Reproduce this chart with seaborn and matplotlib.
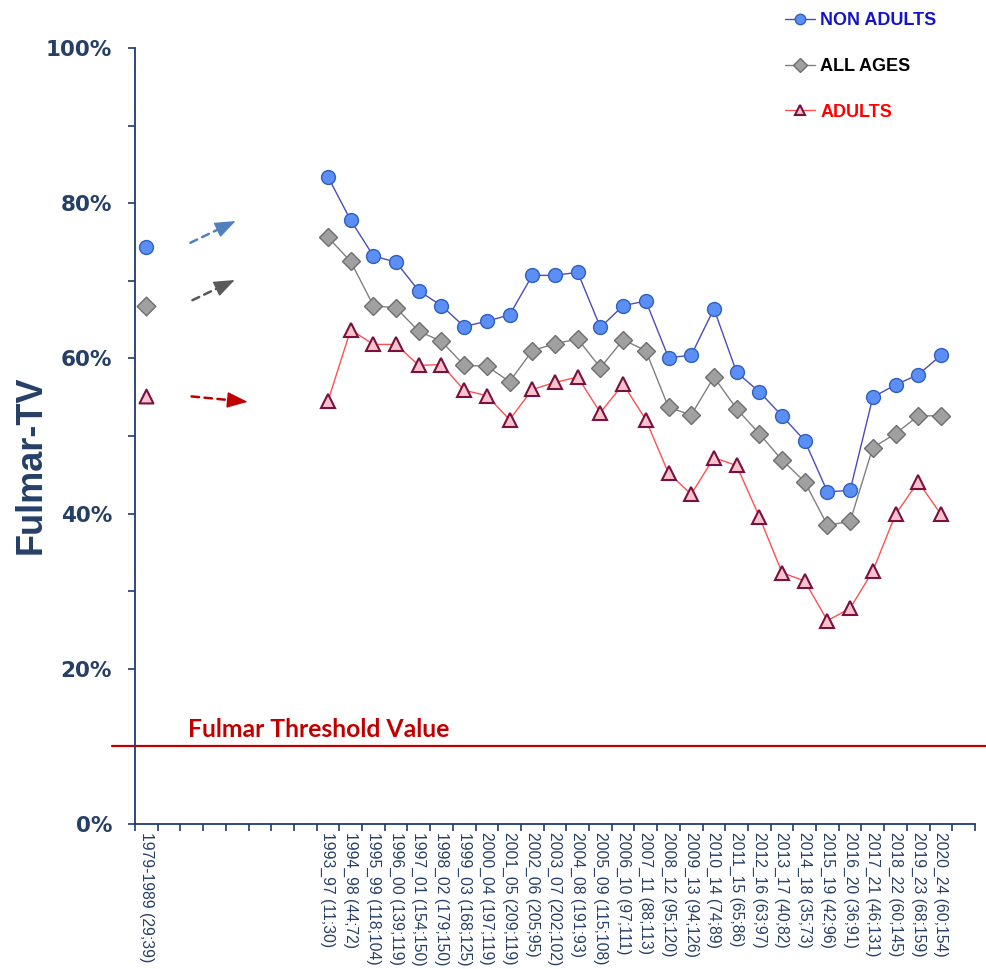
import matplotlib
matplotlib.use("Agg")
import matplotlib.pyplot as plt
from matplotlib.ticker import PercentFormatter, MultipleLocator, FixedLocator
import seaborn as sns

# values
first_period = "1979-1989 (29;39)"
first_non_adults = 0.744
first_all_ages = 0.668
first_adults = 0.551

periods = ["1993_97 (11;30)", "1994_98 (44;72)", "1995_99 (118;104)", "1996_00 (139;119)",
           "1997_01 (154;150)", "1998_02 (179;150)", "1999_03 (168;125)", "2000_04 (197;119)",
           "2001_05 (209;119)", "2002_06 (205;95)", "2003_07 (202;102)", "2004_08 (191;93)",
           "2005_09 (115;108)", "2006_10 (97;111)", "2007_11 (88;113)", "2008_12 (95;120)",
           "2009_13 (94;126)", "2010_14 (74;89)", "2011_15 (65;86)", "2012_16 (63;97)",
           "2013_17 (40;82)", "2014_18 (35;73)", "2015_19 (42;96)", "2016_20 (36;91)",
           "2017_21 (46;131)", "2018_22 (60;145)", "2019_23 (68;159)", "2020_24 (60;154)"]

non_adults = [0.834, 0.778, 0.732, 0.724, 0.687, 0.668, 0.641, 0.648, 0.656, 0.707, 0.707, 0.711,
              0.640, 0.668, 0.674, 0.601, 0.604, 0.664, 0.582, 0.557, 0.526, 0.494, 0.428, 0.430,
              0.550, 0.566, 0.579, 0.604]
all_ages = [0.756, 0.725, 0.668, 0.665, 0.635, 0.622, 0.591, 0.590, 0.570, 0.610, 0.619, 0.625,
            0.588, 0.624, 0.610, 0.537, 0.527, 0.576, 0.535, 0.503, 0.469, 0.441, 0.385, 0.390,
            0.485, 0.503, 0.526, 0.526]
adults = [0.545, 0.637, 0.618, 0.618, 0.591, 0.592, 0.559, 0.552, 0.521, 0.560, 0.569, 0.576,
          0.530, 0.567, 0.521, 0.452, 0.425, 0.472, 0.462, 0.396, 0.324, 0.313, 0.262, 0.278,
          0.326, 0.399, 0.441, 0.399]

threshold = 0.10

# slot layout: first period, 7 empty slots, the moving periods, one empty slot
gap = 7
x_main = list(range(gap + 1, gap + 1 + len(periods)))
n_slots = x_main[-1] + 2

navy = "#1f3b73"
label_navy = "#263f66"

series = [
    dict(name="NON ADULTS", first=first_non_adults, vals=non_adults, line="#4b4bbd", marker="o",
         ms=10, face="#5b8ff5", edge="#2f5fbf", mew=1.0, text="#1414c8",
         arrow=(1.94, 0.005, 3.93, 0.033), arrow_color="#4f81bd"),
    dict(name="ALL AGES", first=first_all_ages, vals=all_ages, line="#808080", marker="D",
         ms=9.5, face="#a0a0a0", edge="#6e6e6e", mew=1.0, text="#000000",
         arrow=(2.03, 0.007, 3.89, 0.033), arrow_color="#595959"),
    dict(name="ADULTS", first=first_adults, vals=adults, line="#ff5050", marker="^",
         ms=10, face="#f9c3cb", edge="#7a1040", mew=1.5, text="#ff0000",
         arrow=(1.99, 0.0, 4.46, -0.007), arrow_color="#c00000"),
]

sns.set_style("ticks")
plt.rcParams["font.family"] = ["Liberation Sans", "DejaVu Sans"]

fig = plt.figure(figsize=(9.87, 9.69), dpi=100)
ax = fig.add_axes([135 / 987, 145 / 969, 840 / 987, 776 / 969])

for s in series:
    sns.lineplot(x=x_main, y=s["vals"], ax=ax, color=s["line"], lw=1.0, marker=s["marker"],
                 markersize=s["ms"], markerfacecolor=s["face"], markeredgecolor=s["edge"],
                 markeredgewidth=s["mew"], label=s["name"])
    sns.scatterplot(x=[0], y=[s["first"]], ax=ax, marker=s["marker"], s=s["ms"] ** 2,
                    color=s["face"], edgecolor=s["edge"], linewidth=s["mew"], zorder=3)
    # dashed arrow pointing from the old period towards the new series:
    # dashed shaft plus a solid head on the last bit
    x0, dy0, x1, dy1 = s["arrow"]
    y0, y1 = s["first"] + dy0, s["first"] + dy1
    xm, ym = x0 + 0.8 * (x1 - x0), y0 + 0.8 * (y1 - y0)
    ax.annotate("", xy=(xm, ym), xytext=(x0, y0),
                arrowprops=dict(arrowstyle="-", color=s["arrow_color"], lw=1.8,
                                linestyle=(0, (3.0, 2.2)), shrinkA=0, shrinkB=0))
    ax.annotate("", xy=(x1, y1), xytext=(xm, ym),
                arrowprops=dict(arrowstyle="-|>,head_length=1.3,head_width=0.5",
                                color=s["arrow_color"], lw=1.0, shrinkA=0, shrinkB=0))

# threshold line, running a bit past the axis on both sides
ax.plot([-0.027, 1.02], [threshold, threshold], transform=ax.get_yaxis_transform(),
        color="#c00000", lw=1.6, clip_on=False)
ax.text(0.063, threshold + 0.012, "Fulmar Threshold Value", transform=ax.get_yaxis_transform(),
        color="#c00000", fontsize=17.8, fontweight="bold", family="Lato", va="baseline")

if ax.get_legend() is not None:
    ax.get_legend().remove()

handles, labels = ax.get_legend_handles_labels()
fig.legend(handles[:3], labels[:3], loc="upper left", bbox_to_anchor=(785 / 987, 1 - 12 / 969),
           frameon=False, labelcolor=[s["text"] for s in series],
           prop=dict(family="Liberation Sans", weight="bold", size=13),
           labelspacing=1.6, handlelength=1.65, handletextpad=0.3, borderpad=0,
           borderaxespad=0, markerscale=0.75)

# axes
ax.set_xlim(-0.5, n_slots - 0.5)
ax.set_ylim(0, 1)
ax.yaxis.set_major_locator(MultipleLocator(0.2))
ax.yaxis.set_minor_locator(MultipleLocator(0.1))
ax.yaxis.set_major_formatter(PercentFormatter(1.0, decimals=0))

ax.xaxis.set_major_locator(FixedLocator([0] + x_main))
ax.set_xticklabels([first_period] + periods, rotation=270, fontsize=11.3, color=label_navy)
ax.xaxis.set_minor_locator(FixedLocator([i - 0.5 for i in range(n_slots + 1)]))
ax.tick_params(axis="x", which="major", length=0, pad=6)
ax.tick_params(axis="x", which="minor", length=5, width=1.2, color=navy)
ax.tick_params(axis="y", which="both", length=5, width=1.2, color=navy, pad=11.5)
for t in ax.get_yticklabels():
    t.set_fontfamily("DejaVu Sans")
    t.set_fontweight("bold")
    t.set_fontsize(15.5)
    t.set_color(label_navy)

ax.set_ylabel("Fulmar-TV", fontsize=26, fontweight="bold", color=label_navy)
ax.yaxis.set_label_coords(-0.103, 0.463)
ax.set_xlabel("")

sns.despine(ax=ax)
for side in ("left", "bottom"):
    ax.spines[side].set_color(navy)
    ax.spines[side].set_linewidth(1.3)

fig.savefig("out.png", dpi=100)
